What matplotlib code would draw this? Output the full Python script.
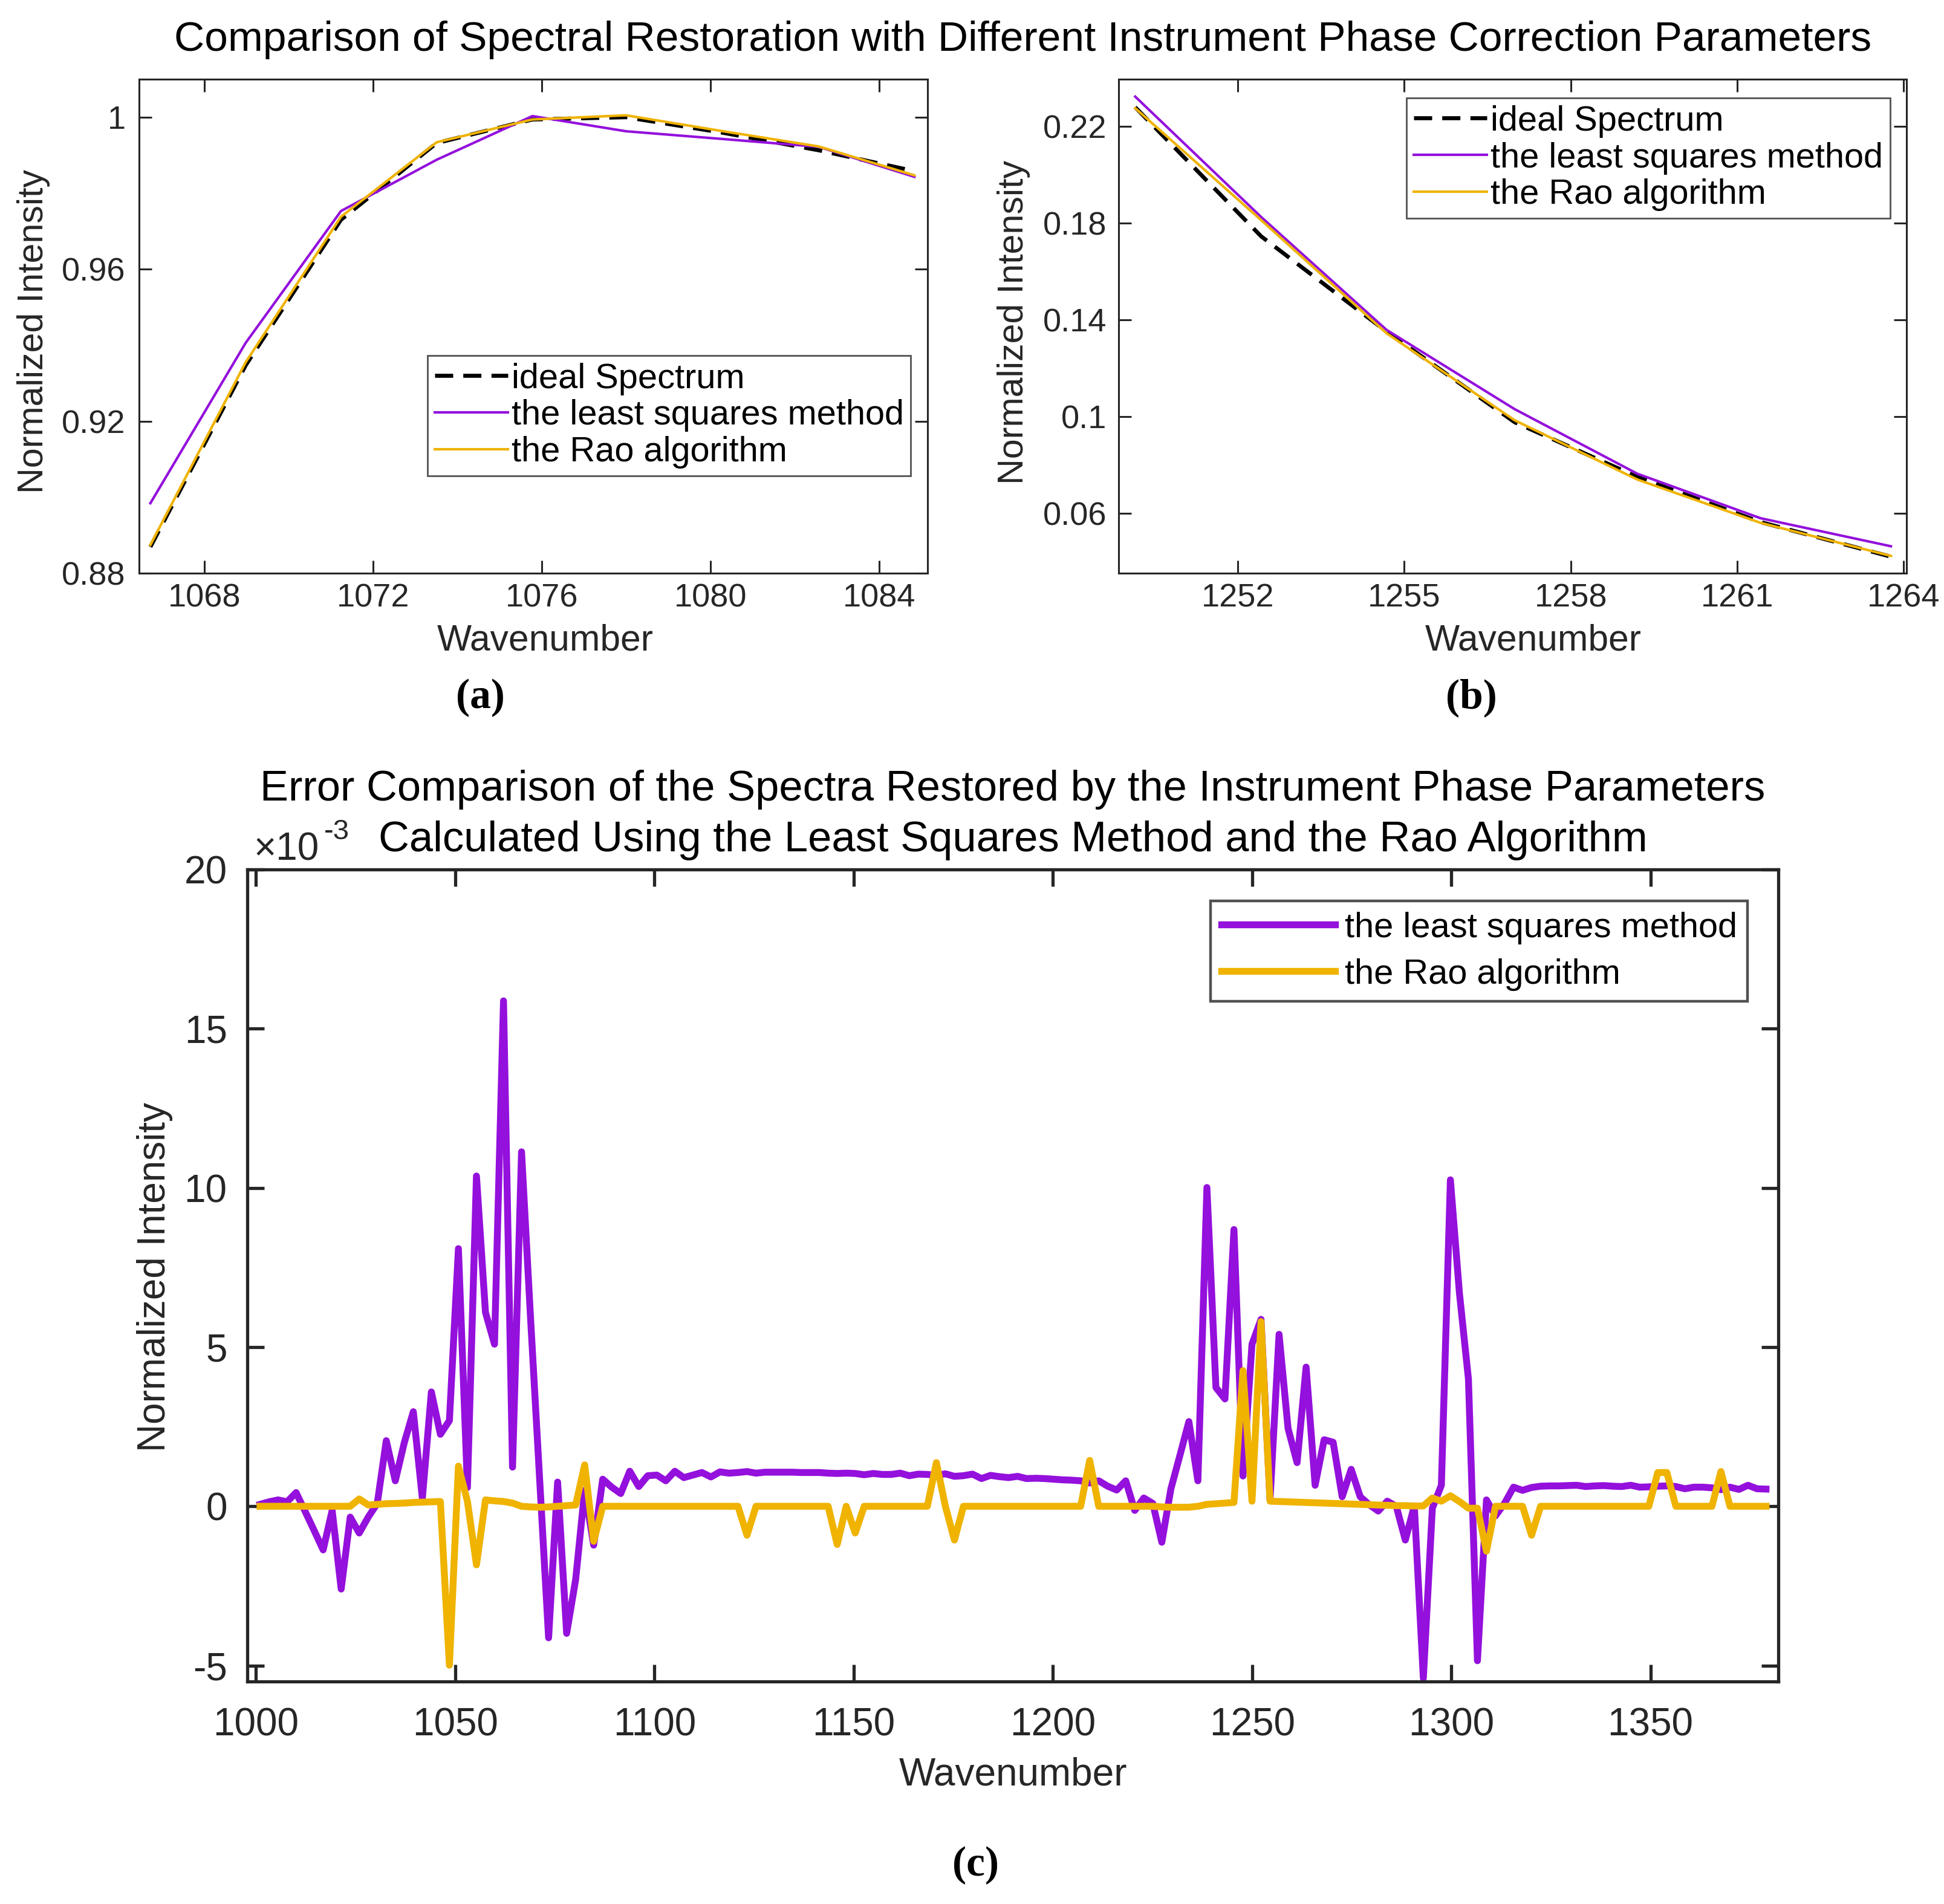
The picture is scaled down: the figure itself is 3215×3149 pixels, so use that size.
import numpy as np
import matplotlib
matplotlib.use("Agg")
import matplotlib.pyplot as plt

plt.rcParams['font.family'] = ['Liberation Sans', 'DejaVu Sans']
plt.rcParams['axes.unicode_minus'] = False

PURPLE = '#9410DC'
YELLOW = '#EFB300'
AXC = '#262626'

# ---------------- panel (a) ----------------
a_wavenumber = [1066.72, 1068.98, 1071.24, 1073.51, 1075.78, 1078.00, 1080.25, 1082.57, 1084.84]
a_ideal = [0.8869, 0.9347, 0.9730, 0.9932, 0.9994, 1.0000, 0.9960, 0.9913, 0.9858]
a_lsm = [0.8984, 0.9406, 0.9753, 0.9888, 1.0003, 0.9963, 0.9943, 0.9922, 0.9843]
a_rao = [0.8874, 0.9355, 0.9738, 0.9934, 0.9994, 1.0005, 0.9964, 0.9923, 0.9847]
a_xticks = [1068, 1072, 1076, 1080, 1084]
a_yticks = [0.88, 0.92, 0.96, 1.0]
a_yticklabels = ['0.88', '0.92', '0.96', '1']

# ---------------- panel (b) ----------------
b_wavenumber = [1250.15, 1252.42, 1254.68, 1256.99, 1259.20, 1261.42, 1263.77]
b_ideal = [0.2280, 0.1746, 0.1352, 0.0977, 0.0751, 0.0564, 0.0421]
b_lsm = [0.2324, 0.1826, 0.1359, 0.1031, 0.0764, 0.0580, 0.0464]
b_rao = [0.2276, 0.1813, 0.1345, 0.0985, 0.0740, 0.0561, 0.0424]
b_xticks = [1252, 1255, 1258, 1261, 1264]
b_yticks = [0.06, 0.10, 0.14, 0.18, 0.22]
b_yticklabels = ['0.06', '0.1', '0.14', '0.18', '0.22']

# ---------------- panel (c) : errors in units of 1e-3 ----------------
# spectral sampling grid: 168 samples from 1001.0 to 1379.0 cm^-1
c_wavenumber = np.linspace(1001.0, 1379.0, 168)
c_lsm_err = [
    0.06, 0.14, 0.20, 0.14, 0.43, -0.16, -0.76, -1.37, -0.13, -2.60,
    -0.34, -0.84, -0.34, 0.09, 2.06, 0.80, 2.00, 2.97, 0.25, 3.59,
    2.26, 2.69, 8.09, 0.59, 10.37, 6.09, 5.09, 15.87, 1.23, 11.13,
    5.90, 0.90, -4.13, 0.76, -3.99, -2.30, 0.50, -1.22, 0.85, 0.60,
    0.40, 1.10, 0.62, 0.96, 0.98, 0.80, 1.10, 0.90, 0.98, 1.06,
    0.92, 1.08, 1.04, 1.06, 1.09, 1.04, 1.07, 1.07, 1.07, 1.07,
    1.06, 1.06, 1.06, 1.04, 1.03, 1.04, 1.03, 0.99, 1.03, 1.00,
    1.00, 1.04, 0.96, 1.01, 1.00, 0.97, 1.02, 0.94, 0.96, 1.01,
    0.87, 0.97, 0.93, 0.90, 0.94, 0.87, 0.88, 0.87, 0.85, 0.83,
    0.82, 0.80, 0.73, 0.80, 0.63, 0.51, 0.80, -0.13, 0.26, 0.09,
    -1.13, 0.54, 1.59, 2.66, 0.80, 10.01, 3.73, 3.37, 8.69, 0.95,
    5.09, 5.87, 0.20, 5.40, 2.44, 1.37, 4.37, 0.66, 2.09, 2.01,
    0.30, 1.16, 0.30, 0.05, -0.15, 0.16, 0.00, -1.06, 0.01, -5.40,
    -0.06, 0.66, 10.25, 6.70, 4.00, -4.85, 0.20, -0.30, 0.09, 0.60,
    0.50, 0.59, 0.63, 0.64, 0.64, 0.65, 0.66, 0.62, 0.64, 0.65,
    0.63, 0.62, 0.66, 0.60, 0.61, 0.63, 0.64, 0.62, 0.55, 0.60,
    0.60, 0.58, 0.52, 0.60, 0.53, 0.66, 0.55, 0.54,
]
c_rao_err = [
    0.00, 0.00, 0.00, 0.00, 0.00, 0.00, 0.00, 0.00, 0.00, 0.00,
    0.00, 0.23, 0.04, 0.06, 0.08, 0.09, 0.10, 0.12, 0.13, 0.14,
    0.15, -4.99, 1.26, 0.15, -1.84, 0.20, 0.17, 0.15, 0.10, 0.00,
    -0.02, -0.03, -0.02, 0.00, 0.02, 0.04, 1.30, -1.10, 0.00, 0.00,
    0.00, 0.00, 0.00, 0.00, 0.00, 0.00, 0.00, 0.00, 0.00, 0.00,
    0.00, 0.00, 0.00, 0.00, -0.91, 0.00, 0.00, 0.00, 0.00, 0.00,
    0.00, 0.00, 0.00, 0.00, -1.20, 0.00, -0.84, 0.00, 0.00, 0.00,
    0.00, 0.00, 0.00, 0.00, 0.00, 1.37, 0.00, -1.06, 0.00, 0.00,
    0.00, 0.00, 0.00, 0.00, 0.00, 0.00, 0.00, 0.00, 0.00, 0.00,
    0.00, 0.00, 1.44, 0.00, 0.00, 0.00, 0.00, 0.00, 0.00, 0.00,
    -0.02, -0.03, -0.03, -0.03, 0.00, 0.06, 0.08, 0.10, 0.12, 4.26,
    0.16, 5.80, 0.16, 0.15, 0.14, 0.13, 0.12, 0.11, 0.10, 0.09,
    0.08, 0.07, 0.06, 0.05, 0.04, 0.03, 0.02, 0.02, 0.01, 0.01,
    0.26, 0.16, 0.33, 0.15, -0.06, -0.06, -1.41, 0.00, 0.00, 0.00,
    0.00, -0.91, 0.00, 0.00, 0.00, 0.00, 0.00, 0.00, 0.00, 0.00,
    0.00, 0.00, 0.00, 0.00, 0.00, 1.06, 1.06, 0.00, 0.00, 0.00,
    0.00, 0.00, 1.09, 0.00, 0.00, 0.00, 0.00, 0.00,
]
c_xticks = [1000, 1050, 1100, 1150, 1200, 1250, 1300, 1350]
c_yticks = [-5, 0, 5, 10, 15, 20]

labels = ['ideal Spectrum', 'the least squares method', 'the Rao algorithm']

fig = plt.figure(figsize=(16.075, 15.745), dpi=200)

def style_axes(ax, tick_fs, tick_len, spine_w, xpad, ypad):
    for s in ax.spines.values():
        s.set_color(AXC)
        s.set_linewidth(spine_w)
    ax.tick_params(axis='both', which='both', direction='in', top=True, right=True,
                   length=tick_len, width=spine_w, colors=AXC, labelsize=tick_fs,
                   labelcolor=AXC)
    ax.tick_params(axis='x', pad=xpad)
    ax.tick_params(axis='y', pad=ypad)

# ---- (a) ----
ax_a = fig.add_axes([0.0715, 0.699, 0.4056, 0.2594])
ax_a.plot(a_wavenumber, a_ideal, color='black', lw=2.4, ls=(0, (4.5, 2.5)), label=labels[0])
ax_a.plot(a_wavenumber, a_lsm, color=PURPLE, lw=1.5, label=labels[1])
ax_a.plot(a_wavenumber, a_rao, color=YELLOW, lw=1.5, label=labels[2])
ax_a.set_xlim(1066.45, 1085.15)
ax_a.set_ylim(0.88, 1.01)
ax_a.set_xticks(a_xticks)
ax_a.set_yticks(a_yticks)
ax_a.set_yticklabels(a_yticklabels)
style_axes(ax_a, 19.5, 7.5, 1.1, 6, 8)
ax_a.set_xlabel('Wavenumber', fontsize=21.8, color=AXC, va='center')
ax_a.xaxis.set_label_coords(0.515, -0.137)
ax_a.set_ylabel('Normalized Intensity', fontsize=21.3, color=AXC, ha='center', va='center')
ax_a.yaxis.set_label_coords(-0.134, 0.49)
leg = ax_a.legend(loc='lower right', bbox_to_anchor=(0.979, 0.197), fontsize=20.8,
                  frameon=True, fancybox=False, edgecolor=AXC, borderpad=0.2,
                  labelspacing=0.12, handlelength=2.1, handletextpad=0.1, borderaxespad=0)
leg.get_frame().set_linewidth(1.0)

# ---- (b) ----
ax_b = fig.add_axes([0.5754, 0.699, 0.4053, 0.2594])
ax_b.plot(b_wavenumber, b_ideal, color='black', lw=2.4, ls=(0, (4.5, 2.5)), label=labels[0])
ax_b.plot(b_wavenumber, b_lsm, color=PURPLE, lw=1.5, label=labels[1])
ax_b.plot(b_wavenumber, b_rao, color=YELLOW, lw=1.5, label=labels[2])
ax_b.set_xlim(1249.85, 1264.05)
ax_b.set_ylim(0.0353, 0.2396)
ax_b.set_xticks(b_xticks)
ax_b.set_yticks(b_yticks)
ax_b.set_yticklabels(b_yticklabels)
style_axes(ax_b, 19.5, 7.5, 1.1, 6, 7)
ax_b.set_xlabel('Wavenumber', fontsize=21.8, color=AXC, va='center')
ax_b.xaxis.set_label_coords(0.526, -0.137)
ax_b.set_ylabel('Normalized Intensity', fontsize=21.3, color=AXC, ha='center', va='center')
ax_b.yaxis.set_label_coords(-0.133, 0.508)
leg = ax_b.legend(loc='upper right', bbox_to_anchor=(0.979, 0.962), fontsize=20.8,
                  frameon=True, fancybox=False, edgecolor=AXC, borderpad=0.2,
                  labelspacing=0.12, handlelength=2.1, handletextpad=0.1, borderaxespad=0)
leg.get_frame().set_linewidth(1.0)

# ---- (c) ----
ax_c = fig.add_axes([0.1272, 0.1169, 0.7876, 0.4265])
ax_c.plot(c_wavenumber, c_lsm_err, color=PURPLE, lw=4.1, label=labels[1])
ax_c.plot(c_wavenumber, c_rao_err, color=YELLOW, lw=4.1, label=labels[2])
ax_c.set_xlim(997.8, 1382.1)
ax_c.set_ylim(-5.5, 20)
ax_c.set_xticks(c_xticks)
ax_c.set_yticks(c_yticks)
style_axes(ax_c, 23, 10, 1.9, 15.5, 12)
ax_c.set_xlabel('Wavenumber', fontsize=23, color=AXC, va='center')
ax_c.xaxis.set_label_coords(0.5, -0.115)
ax_c.set_ylabel('Normalized Intensity', fontsize=23, color=AXC, ha='center', va='center')
ax_c.yaxis.set_label_coords(-0.0604, 0.498)
leg = ax_c.legend(loc='upper right', bbox_to_anchor=(0.980, 0.961), fontsize=20.8,
                  frameon=True, fancybox=False, edgecolor=AXC, borderpad=0.3,
                  labelspacing=0.4, handlelength=3.26, handletextpad=0.28, borderaxespad=0)
leg.get_frame().set_linewidth(1.6)
ax_c.text(0.5, 1.098, 'Error Comparison of the Spectra Restored by the Instrument Phase Parameters',
          transform=ax_c.transAxes, ha='center', va='center', fontsize=25.4, color='black')
ax_c.text(0.5, 1.0357, 'Calculated Using the Least Squares Method and the Rao Algorithm',
          transform=ax_c.transAxes, ha='center', va='center', fontsize=25.4, color='black')
ax_c.text(0.004, 1.024, '\u00d710', transform=ax_c.transAxes,
          ha='left', va='center', fontsize=23, color=AXC)
ax_c.text(0.0500, 1.046, '-3', transform=ax_c.transAxes,
          ha='left', va='center', fontsize=17, color=AXC)

# ---- figure texts ----
fig.text(0.526, 0.979, 'Comparison of Spectral Restoration with Different Instrument Phase Correction Parameters',
         ha='center', va='center', fontsize=25, color='black')
fig.text(0.247, 0.6335, '(a)', ha='center', va='center', fontsize=25,
         family='Liberation Serif', weight='bold', color='black')
fig.text(0.757, 0.6335, '(b)', ha='center', va='center', fontsize=25,
         family='Liberation Serif', weight='bold', color='black')
fig.text(0.502, 0.0203, '(c)', ha='center', va='center', fontsize=25,
         family='Liberation Serif', weight='bold', color='black')

fig.savefig('out.png', dpi=200, facecolor='white')
